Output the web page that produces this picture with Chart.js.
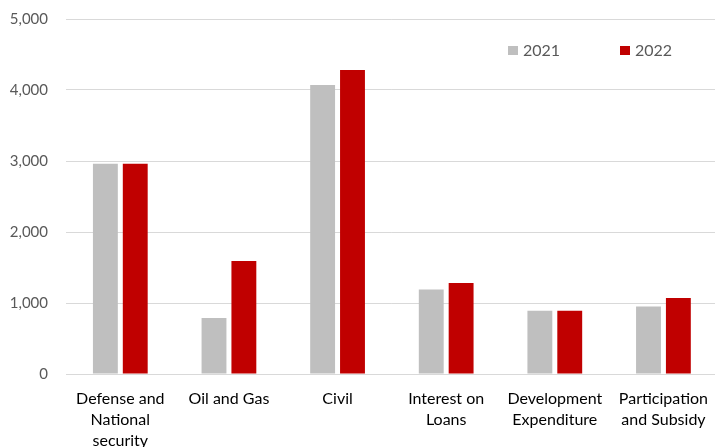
<!DOCTYPE html>
<html><head><meta charset="utf-8">
<script src="https://cdn.jsdelivr.net/npm/chart.js@4"></script>
<style>html,body{margin:0;padding:0;overflow:hidden;background:#fff;width:715px;height:447px}#wrap{width:722px;height:455px;position:absolute;left:0;top:-8px}</style>
</head><body><div id="wrap"><canvas id="c"></canvas></div>
<script>
const categories = [["Defense and","National","security"],"Oil and Gas","Civil",["Interest on","Loans"],["Development","Expenditure"],["Participation","and Subsidy"]];
const seriesNames = ["2021","2022"];
const values2021 = [2960, 790, 4070, 1190, 890, 950];
const values2022 = [2960, 1590, 4280, 1280, 890, 1070];
const yTicks = [0,1000,2000,3000,4000,5000];
const colors = ["#BFBFBF","#C00000"];
const FONT = "Lato, 'Liberation Sans', sans-serif";

const legendPlugin = {
  id:'customLegend',
  afterDraw(chart){
    const ctx = chart.ctx;
    const xs = [508, 620];
    const y0 = chart.chartArea.top + 27;
    ctx.save();
    ctx.font = "16px " + FONT;
    ctx.textBaseline = 'middle';
    chart.data.datasets.forEach((ds,i)=>{
      ctx.fillStyle = ds.backgroundColor;
      ctx.fillRect(xs[i], y0, 10, 9);
      ctx.fillStyle = '#595959';
      ctx.fillText(ds.label, xs[i]+15, y0+5);
    });
    ctx.restore();
  }
};

new Chart(document.getElementById('c'), {
  type:'bar',
  data:{labels:categories, datasets:[
    {label:seriesNames[0], data:values2021, backgroundColor:colors[0], categoryPercentage:0.55, barPercentage:0.833},
    {label:seriesNames[1], data:values2022, backgroundColor:colors[1], categoryPercentage:0.55, barPercentage:0.833}
  ]},
  options:{
    responsive:true, maintainAspectRatio:false, animation:false,
    layout:{padding:{top:11,left:0,right:0,bottom:0}},
    plugins:{legend:{display:false}, tooltip:{enabled:false}},
    scales:{
      x:{grid:{display:false, drawTicks:false}, border:{display:true,color:'#D9D9D9',width:1},
         ticks:{color:'#000', font:{family:FONT,size:16,lineHeight:1.32}, padding:14, maxRotation:0, autoSkip:false},
         afterFit(s){ s.height = 73; }},
      y:{min:0,max:5000, afterBuildTicks(s){ s.ticks = yTicks.map(v=>({value:v})); },
         grid:{color:'#D9D9D9', drawTicks:false}, border:{display:false},
         ticks:{color:'#595959', font:{family:FONT,size:15}, padding:18,
           callback:v=>v.toLocaleString('en-US')},
         afterFit(s){ s.width = 66; }}
    }
  },
  plugins:[legendPlugin]
});
</script></body></html>
